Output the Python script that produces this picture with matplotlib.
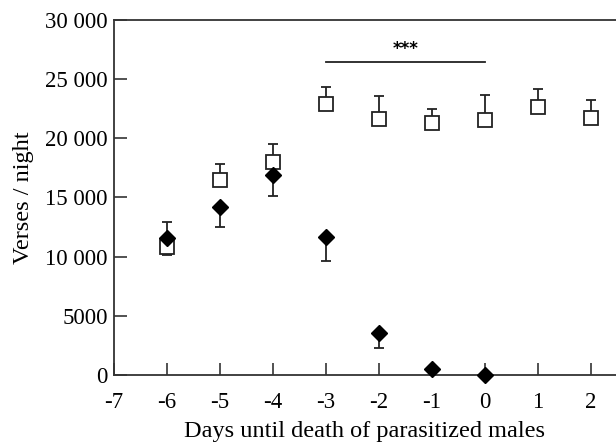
import matplotlib
matplotlib.use("Agg")
import matplotlib.pyplot as plt

days = [-6, -5, -4, -3, -2, -1, 0, 1, 2]
control_mean = [10800, 16500, 18000, 22900, 21600, 21300, 21550, 22650, 21700]
control_err = [700, 1300, 1500, 1450, 1950, 1200, 2150, 1550, 1550]
control_err_dir = ['down', 'up', 'up', 'up', 'up', 'up', 'up', 'up', 'up']

para_days = [-6, -5, -4, -3, -2, -1, 0]
para_mean = [11600, 14200, 16900, 11700, 3550, 500, 0]
para_err = [1300, 1700, 1800, 2050, 1300, 0, 0]
para_err_dir = ['up', 'down', 'down', 'down', 'down', 'down', 'down']

yticks = [0, 5000, 10000, 15000, 20000, 25000, 30000]
ytick_labels = ['0', '5000', '10 000', '15 000', '20 000', '25 000', '30 000']
xticks = [-7, -6, -5, -4, -3, -2, -1, 0, 1, 2]
xtick_labels = ['-7', '-6', '-5', '-4', '-3', '-2', '-1', '0', '1', '2']

sig_x = [-3, 0]
sig_y = 26450
sig_text = '***'

plt.rcParams['font.family'] = ['Liberation Serif', 'DejaVu Serif']

fig = plt.figure(figsize=(6.16, 4.42), dpi=100)
ax = fig.add_axes([114/616, 67/442, (616-114)/616, 355/442])

def split(errs, dirs):
    lo = [e if d == 'down' else 0 for e, d in zip(errs, dirs)]
    hi = [e if d == 'up' else 0 for e, d in zip(errs, dirs)]
    return [lo, hi]

ax.errorbar(days, control_mean, yerr=split(control_err, control_err_dir), fmt='none',
            ecolor='#222222', elinewidth=1.3, capsize=3.7, capthick=1.3, zorder=2)
ax.plot(days, control_mean, 's', ms=10.5, mfc='white', mec='#222222', mew=1.3,
        linestyle='none', zorder=3)

ax.errorbar(para_days, para_mean, yerr=split(para_err, para_err_dir), fmt='none',
            ecolor='#222222', elinewidth=1.3, capsize=3.7, capthick=1.3, zorder=4)
ax.plot(para_days, para_mean, 'D', ms=7.8, mfc='black', mec='black',
        linestyle='none', zorder=5, clip_on=False)

ax.plot(sig_x, [sig_y, sig_y], color='#222222', lw=1.3)
ax.text(sum(sig_x)/2, sig_y + 300, sig_text, ha='center', va='bottom', fontsize=12,
        family=['DejaVu Sans'], fontweight='bold')

ax.set_xlim(-7, 2.47)
ax.set_ylim(0, 30000)
ax.set_yticks(yticks)
ax.set_yticklabels(ytick_labels)
ax.set_xticks(xticks)
ax.set_xticklabels(xtick_labels)
ax.tick_params(axis='both', direction='in', length=9, width=1.2, color='#333333',
               labelsize=16.5)
ax.tick_params(axis='x', pad=12)
ax.tick_params(axis='y', pad=4.5)
ax.spines['right'].set_visible(False)
for s in ['left', 'top', 'bottom']:
    ax.spines[s].set_linewidth(1.3)
    ax.spines[s].set_color('#333333')

ax.set_xlabel('Days until death of parasitized males', fontsize=17.5, labelpad=6)
ax.set_ylabel('Verses / night', fontsize=17.5, labelpad=8)

fig.savefig('out.png', dpi=100)
